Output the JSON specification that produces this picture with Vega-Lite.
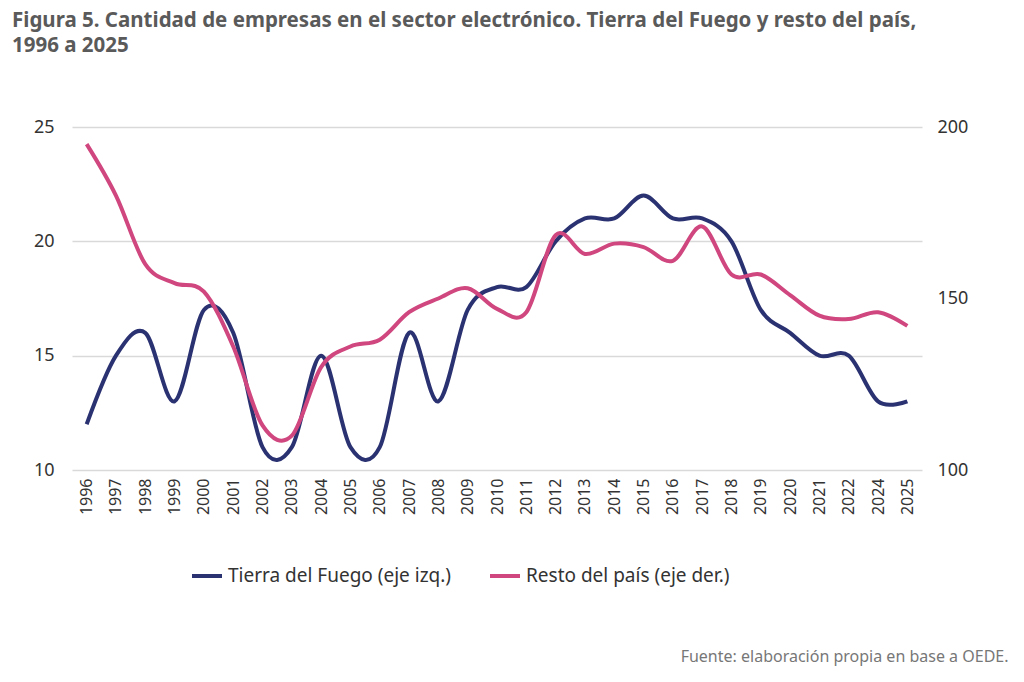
{
  "$schema": "https://vega.github.io/schema/vega-lite/v6.json",
  "autosize": {"type": "none"},
  "width": 850,
  "height": 343,
  "padding": {"left": 72, "top": 127, "right": 102, "bottom": 212},
  "background": "white",
  "config": {"view": {"stroke": null}, "font": "Noto Sans"},
  "title": {
    "text": ["Figura 5. Cantidad de empresas en el sector electrónico. Tierra del Fuego y resto del país,", "1996 a 2025"],
    "anchor": "start",
    "frame": "group",
    "dx": -60,
    "offset": 62,
    "fontSize": 20.5,
    "fontWeight": "bold",
    "color": "#5a5a5a",
    "lineHeight": 25
  },
  "data": {"values": [
    {"anio": "1996", "tdf": 12, "resto": 195},
    {"anio": "1997", "tdf": 15, "resto": 180},
    {"anio": "1998", "tdf": 16, "resto": 160},
    {"anio": "1999", "tdf": 13, "resto": 154.5},
    {"anio": "2000", "tdf": 17, "resto": 152},
    {"anio": "2001", "tdf": 16, "resto": 136},
    {"anio": "2002", "tdf": 11, "resto": 113},
    {"anio": "2003", "tdf": 11, "resto": 110},
    {"anio": "2004", "tdf": 15, "resto": 130},
    {"anio": "2005", "tdf": 11, "resto": 136},
    {"anio": "2006", "tdf": 11, "resto": 138},
    {"anio": "2007", "tdf": 16, "resto": 146},
    {"anio": "2008", "tdf": 13, "resto": 150},
    {"anio": "2009", "tdf": 17, "resto": 153},
    {"anio": "2010", "tdf": 18, "resto": 147},
    {"anio": "2011", "tdf": 18, "resto": 146},
    {"anio": "2012", "tdf": 20, "resto": 168.5},
    {"anio": "2013", "tdf": 21, "resto": 163},
    {"anio": "2014", "tdf": 21, "resto": 166},
    {"anio": "2015", "tdf": 22, "resto": 165},
    {"anio": "2016", "tdf": 21, "resto": 161},
    {"anio": "2017", "tdf": 21, "resto": 171},
    {"anio": "2018", "tdf": 20, "resto": 157},
    {"anio": "2019", "tdf": 17, "resto": 157},
    {"anio": "2020", "tdf": 16, "resto": 151},
    {"anio": "2021", "tdf": 15, "resto": 145},
    {"anio": "2022", "tdf": 15, "resto": 144},
    {"anio": "2024", "tdf": 13, "resto": 146},
    {"anio": "2025", "tdf": 13, "resto": 142}
  ]},
  "encoding": {
    "x": {
      "field": "anio",
      "type": "ordinal",
      "sort": null,
      "scale": {"type": "point", "padding": 0.5},
      "axis": {
        "title": "Fuente: elaboración propia en base a OEDE.",
        "titleAnchor": "end",
        "titleAlign": "right",
        "titleY": 178,
        "titleX": 936,
        "titleFontSize": 16,
        "titleFontWeight": "normal",
        "titleColor": "#777777",
        "labelAngle": -90,
        "labelFontSize": 16,
        "labelColor": "#333333",
        "domain": false,
        "ticks": false,
        "labelPadding": 8
      }
    }
  },
  "layer": [
    {
      "mark": {"type": "line", "interpolate": "cardinal", "strokeWidth": 4},
      "encoding": {
        "y": {
          "field": "tdf",
          "type": "quantitative",
          "scale": {"domain": [10, 25]},
          "axis": {
            "title": null, "values": [10, 15, 20, 25], "domain": false, "ticks": false,
            "labelFontSize": 18, "labelColor": "#333333", "labelPadding": 18,
            "gridColor": "#d9d9d9", "gridWidth": 1.5
          }
        },
        "color": {"datum": "Tierra del Fuego (eje izq.)"}
      }
    },
    {
      "mark": {"type": "line", "interpolate": "cardinal", "strokeWidth": 4},
      "encoding": {
        "y": {
          "field": "resto",
          "type": "quantitative",
          "scale": {"domain": [100, 200]},
          "axis": {
            "title": null, "orient": "right", "values": [100, 150, 200], "domain": false, "ticks": false,
            "grid": false, "labelFontSize": 18, "labelColor": "#333333", "labelPadding": 15
          }
        },
        "color": {
          "datum": "Resto del país (eje der.)",
          "scale": {
            "domain": ["Tierra del Fuego (eje izq.)", "Resto del país (eje der.)"],
            "range": ["#2b3272", "#d0467e"]
          },
          "legend": {
            "title": null,
            "orient": "none",
            "direction": "horizontal",
            "legendX": 118,
            "legendY": 432,
            "symbolType": "stroke",
            "symbolStrokeWidth": 4,
            "symbolSize": 900,
            "labelFontSize": 19,
            "labelColor": "#333333",
            "columnPadding": 30,
            "labelLimit": 400
          }
        }
      }
    }
  ],
  "resolve": {"scale": {"y": "independent"}}
}
